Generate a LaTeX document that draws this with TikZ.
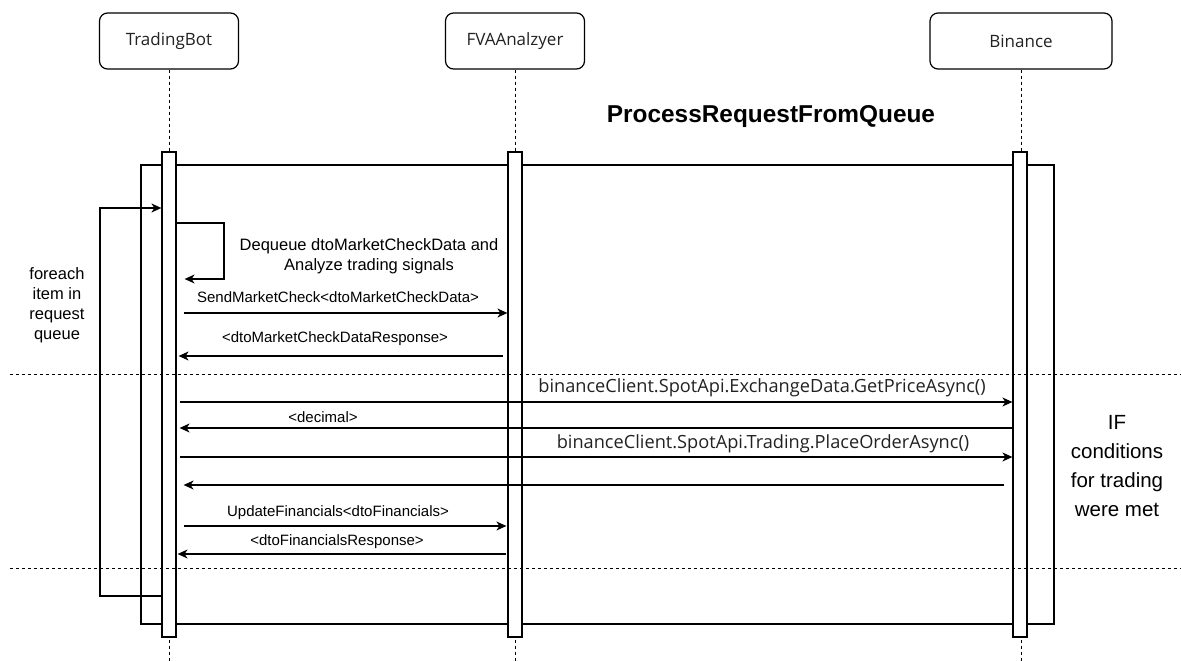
\documentclass[tikz,border=0pt]{standalone}
\usepackage{fontspec}
\setmainfont{Liberation Sans}
\newfontfamily\uifont{Open Sans}
\usepackage{tikz}
\usetikzlibrary{arrows.meta,positioning,calc}
\definecolor{ink}{HTML}{000000}
\definecolor{uitext}{HTML}{222222}
\tikzset{
  >={Stealth[length=10pt,width=9pt,inset=3pt]},
  every node/.style={text=ink},
  actor/.style={draw=ink,line width=1.2pt,rounded corners=8pt,fill=white,minimum width=139pt,minimum height=56pt,inner sep=0pt,text=uitext,font=\uifont\fontsize{17}{20}\selectfont},
  actbar/.style={draw=ink,line width=1.2pt,fill=white,minimum width=14pt,minimum height=485pt,inner sep=0pt},
  lifeline/.style={draw=ink,line width=0.8pt,dash pattern=on 3pt off 3pt},
  loopframe/.style={draw=ink,line width=1.2pt},
  sep/.style={draw=ink,line width=1pt,dash pattern=on 3pt off 3pt},
  msg/.style={->,draw=ink,line width=1.2pt},
  msglabel/.style={font=\fontsize{15}{18}\selectfont,inner sep=0pt},
  apilabel/.style={font=\uifont\fontsize{18.2}{21}\selectfont,inner sep=0pt,text=uitext},
  note/.style={align=center,inner sep=0pt,font=\fontsize{16.5}{20}\selectfont},
  bignote/.style={align=center,inner sep=0pt,font=\fontsize{20.5}{29}\selectfont},
  titlelabel/.style={font=\bfseries\fontsize{24.4}{28}\selectfont,inner sep=0pt}
}

\begin{document}
\begin{tikzpicture}[x=1pt,y=-1pt]
  \useasboundingbox (0,0) rectangle (1181,661);
  \node[actor] (bot) at (169,41) {TradingBot};
  \node[actor] (fva) at (515,41) {FVAAnalzyer};
  \node[actor,minimum width=182pt] (bin) at (1021,41) {Binance};
  \foreach \a in {bot,fva,bin} \draw[lifeline] (\a.south) -- (\a.south |- 0,661);

  \node[titlelabel] (title) at (771,117) {ProcessRequestFromQueue};
  \draw[loopframe] (141,165) rectangle (1054,624);

  \node[actbar] (botbar) at (169,394.5) {};
  \node[actbar] (fvabar) at (515,394.5) {};
  \node[actbar] (binbar) at (1020,394.5) {};

  \draw[sep] (10,374) -- (1181,374);
  \draw[sep] (10,568) -- (1181,568);

  \foreach \n/\y in {1/313,2/356,3/402,4/428,5/457,6/485,7/526,8/554} \coordinate (r\n) at (0,\y);
  \coordinate (looptop) at (100,208);
  \coordinate (loopbot) at (100,596);
  \coordinate (selftop) at (224,223);
  \coordinate (selfbot) at (224,279);

  \draw[msg] (botbar.west |- loopbot) -- (loopbot) -- (looptop) -- (botbar.west |- looptop);
  \draw[msg] (botbar.east |- selftop) -- (selftop) -- (selfbot) -- ([xshift=8pt]botbar.east |- selfbot);
  \node[note] (dequeue) at (369,256) {Dequeue dtoMarketCheckData and\\Analyze trading signals};
  \node[note] (foreach) at (57,305) {foreach\\item in\\request\\queue};

  \draw[msg] ([xshift=7pt]botbar.east |- r1) -- (fvabar.west |- r1);
  \node[msglabel] (l1) at (338,297) {SendMarketCheck<dtoMarketCheckData>};
  \draw[msg] ([xshift=-4pt]fvabar.west |- r2) -- ([xshift=2pt]botbar.east |- r2);
  \node[msglabel] (l2) at (335,339) {<dtoMarketCheckDataResponse>};

  \draw[msg] ([xshift=3pt]botbar.east |- r3) -- (binbar.west |- r3);
  \node[apilabel] (l3) at (762,388) {binanceClient.SpotApi.ExchangeData.GetPriceAsync()};
  \draw[msg] (binbar.west |- r4) -- ([xshift=3pt]botbar.east |- r4);
  \node[msglabel] (l4) at (323,417) {<decimal>};
  \draw[msg] ([xshift=3pt]botbar.east |- r5) -- (binbar.west |- r5);
  \node[apilabel] (l5) at (763,444) {binanceClient.SpotApi.Trading.PlaceOrderAsync()};
  \draw[msg] ([xshift=-8pt]binbar.west |- r6) -- ([xshift=7pt]botbar.east |- r6);

  \draw[msg] ([xshift=7pt]botbar.east |- r7) -- ([xshift=-1pt]fvabar.west |- r7);
  \node[msglabel] (l7) at (338,513) {UpdateFinancials<dtoFinancials>};
  \draw[msg] ([xshift=-1pt]fvabar.west |- r8) -- ([xshift=1pt]botbar.east |- r8);
  \node[msglabel] (l8) at (337,542) {<dtoFinancialsResponse>};

  \node[bignote] (ifnote) at (1117,466) {IF\\conditions\\for trading\\were met};
\end{tikzpicture}
\end{document}
